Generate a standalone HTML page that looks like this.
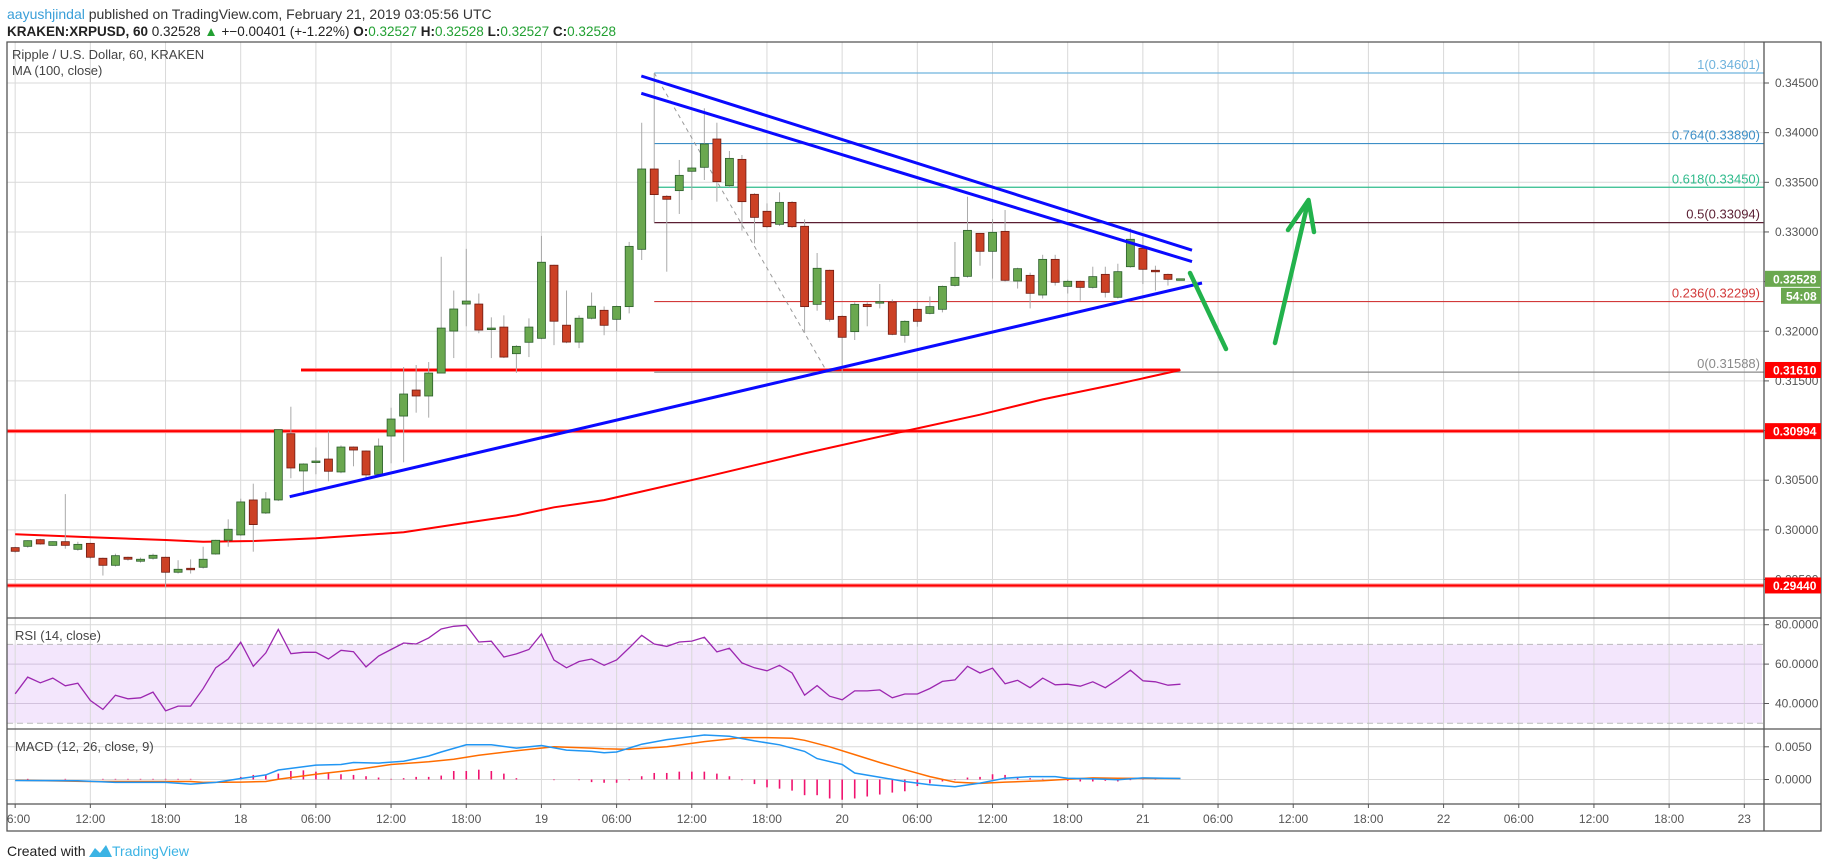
<!DOCTYPE html>
<html><head><meta charset="utf-8"><style>
html,body{margin:0;padding:0;background:#fff;}
svg{display:block;font-family:"Liberation Sans",sans-serif;}
</style></head><body>
<svg id="chart" width="1828" height="868" viewBox="0 0 1828 868" xmlns="http://www.w3.org/2000/svg">
<text x="7" y="19" font-size="14" fill="#3a9fd8">aayushjindal<tspan fill="#333"> published on TradingView.com, February 21, 2019 03:05:56 UTC</tspan></text>
<text x="7" y="36" font-size="13.5" fill="#222"><tspan font-weight="bold">KRAKEN:XRPUSD, 60</tspan> 0.32528 <tspan fill="#22a032">▲</tspan> +−0.00401 (+-1.22%) <tspan font-weight="bold">O:</tspan><tspan fill="#22a032">0.32527</tspan> <tspan font-weight="bold">H:</tspan><tspan fill="#22a032">0.32528</tspan> <tspan font-weight="bold">L:</tspan><tspan fill="#22a032">0.32527</tspan> <tspan font-weight="bold">C:</tspan><tspan fill="#22a032">0.32528</tspan></text>
<defs><clipPath id="plotclip"><rect x="7" y="42" width="1757" height="762"/></clipPath>
<clipPath id="timeclip"><rect x="7" y="804" width="1757" height="27"/></clipPath></defs>
<g id="grid" clip-path="url(#plotclip)"></g>
<g id="main" clip-path="url(#plotclip)"></g>
<g id="rsi" clip-path="url(#plotclip)"></g>
<g id="macd" clip-path="url(#plotclip)"></g>
<g id="timelabels" clip-path="url(#timeclip)"></g>
<g id="axes"></g>
<text x="12" y="59" font-size="13" fill="#444">Ripple / U.S. Dollar, 60, KRAKEN</text>
<text x="12" y="75" font-size="13" fill="#444">MA (100, close)</text>
<text x="15" y="640" font-size="13" fill="#444">RSI (14, close)</text>
<text x="15" y="751" font-size="13" fill="#444">MACD (12, 26, close, 9)</text>
<text x="7" y="856" font-size="14" fill="#222">Created with</text>
<path d="M89 857 l6 -9 l5 5 l6 -8 l6 12 z" fill="#3bb3e4"/>
<text x="112" y="856" font-size="14" fill="#3bb3e4">TradingView</text>
</svg>
<script>
const opens=[.29821,.29834,.29901,.29844,.29881,.29804,.29864,.29714,.29643,.29724,.29684,.29714,.29724,.29573,.29613,.29623,.29757,.29895,.29949,.30301,.30170,.30301,.30968,.30593,.30683,.30713,.30583,.30834,.30794,.30559,.30945,.31146,.31408,.31348,.31579,.32002,.32274,.32274,.32019,.32042,.31774,.31889,.31929,.32665,.32061,.31891,.32131,.32211,.32120,.32248,.32825,.33634,.33359,.33416,.33611,.33651,.33936,.33466,.33731,.33379,.33208,.33077,.33298,.33057,.32271,.32614,.32150,.31996,.32271,.32288,.32295,.31959,.32221,.32180,.32221,.32462,.32553,.32986,.32805,.33006,.32506,.32563,.32365,.32724,.32452,.32503,.32442,.32573,.32342,.32650,.32835,.32614,.32573,.32527];
const highs=[.2983,.29895,.2991,.29885,.3036,.2988,.2987,.2972,.2976,.2973,.2972,.2976,.2973,.29694,.29703,.2983,.2990,.30106,.30314,.30465,.30380,.3101,.3124,.3067,.3083,.3099,.3085,.3084,.3080,.3092,.3123,.3164,.3166,.3169,.3275,.3241,.3283,.3238,.3214,.3216,.3186,.3213,.3296,.3267,.3241,.3216,.3239,.3225,.3226,.3290,.34100,.34601,.3337,.33725,.3388,.34245,.34100,.33815,.33775,.3339,.33288,.33399,.3331,.33127,.32788,.3262,.3216,.3229,.3229,.32476,.32321,.3211,.3229,.3235,.3246,.32899,.33355,.3299,.3313,.33221,.3264,.3259,.3277,.3277,.3252,.3251,.3265,.3265,.3268,.33036,.32953,.3266,.3258,.32528];
const lows=[.2977,.2982,.2985,.2984,.2981,.2979,.2971,.2954,.2963,.2969,.2967,.2970,.2942,.2956,.2956,.2961,.2975,.2983,.2994,.2978,.3016,.3029,.3052,.30361,.3056,.3049,.3057,.3064,.3052,.3055,.3067,.3068,.3118,.3113,.3158,.3173,.3205,.3198,.3173,.3173,.3158,.3174,.3192,.3186,.3188,.3183,.3212,.3196,.3200,.3218,.32718,.33097,.3260,.33181,.33322,.33523,.33305,.3345,.33013,.32885,.3304,.3306,.3304,.31986,.32207,.32097,.31588,.31912,.3205,.3223,.3196,.31885,.32046,.3217,.3219,.3245,.3254,.3266,.3253,.3250,.3243,.3223,.3233,.3246,.3238,.32308,.3243,.3234,.3233,.3264,.32476,.3241,.3246,.32527];
const closes=[.29784,.29891,.29858,.29881,.29844,.29854,.29724,.29643,.29740,.29704,.29704,.29744,.29573,.29603,.29603,.29704,.29895,.30006,.30281,.30053,.30311,.31009,.30623,.30663,.30693,.30590,.30834,.30804,.30553,.30844,.31116,.31368,.31348,.31579,.32032,.32224,.32304,.32012,.32032,.31740,.31848,.32042,.32695,.32101,.31891,.32131,.32252,.32060,.32250,.32855,.33634,.33376,.33329,.33570,.33644,.33886,.33506,.33741,.33305,.33147,.33053,.33298,.33053,.32248,.32634,.32120,.31939,.32271,.32248,.32298,.31969,.32100,.32100,.32248,.32452,.32543,.33016,.32805,.32996,.32513,.32630,.32382,.32724,.32493,.32503,.32442,.32550,.32392,.32600,.32926,.32624,.32600,.32523,.32528];
const maIdx=[0,6,12,15,19,24,31,36,40,43,47,55,63,71,77,82,88,93];
const maVals=[.29955,.29925,.29898,.29881,.29888,.29915,.29975,.30072,.30146,.30227,.30300,.3053,.3077,.30994,.3116,.31314,.3147,.3161];
const rsiVals=[44.9,53.4,50.5,52.9,49.0,50.3,41.5,37.0,44.2,42.4,42.9,45.8,36.3,38.7,38.7,47.5,58.1,62.6,71.1,58.9,65.7,77.6,65.3,66.0,66.0,62.6,67.0,66.3,58.6,64.1,67.4,70.7,70.2,73.3,77.8,79.2,79.7,71.2,71.6,63.6,65.2,67.4,75.3,62.1,58.1,61.3,62.6,59.4,62.1,68.2,74.6,70.2,69.0,71.2,71.7,73.6,66.2,68.0,60.6,58.1,56.6,59.4,55.5,44.2,49.1,43.7,41.9,46.4,46.4,46.9,42.9,44.8,44.8,47.6,51.2,52.0,58.9,55.5,57.9,50.0,51.8,48.0,52.9,49.5,49.8,48.8,51.0,48.0,52.2,56.9,51.5,51.0,49.3,49.8];
const macdIdx=[0,5,8,12,14,16,18,20,21,24,26,27,29,31,33,34,36,38,40,42,44,46,47,48,50,52,55,57,59,61,63,64,66,67,69,71,73,75,77,79,81,83,84,86,88,90,93];
const macdVals=[-.00015,-.0002,-.00045,-.00045,-.0007,-.00045,.00015,.0007,.00146,.0022,.0023,.0026,.0025,.0028,.0036,.0042,.0053,.0053,.0048,.0052,.0045,.0043,.0041,.0042,.0054,.0061,.0068,.0066,.0059,.0053,.0043,.0032,.0023,.001,.00035,-.0003,-.0008,-.0011,-.00055,.0002,.00045,.00045,.0002,.0001,-.00005,.00025,.00015];
const sigIdx=[0,6,14,15,18,20,21,24,27,30,33,35,37,40,43,46,47,49,52,55,58,60,62,63,65,67,69,71,73,75,77,79,82,84,86,88,93];
const sigVals=[-.0001,-.0003,-.0003,-.00045,-.0004,-.0003,.00005,.0008,.00146,.0023,.0027,.0031,.0037,.0044,.005,.0048,.0047,.0046,.005,.0058,.0064,.0064,.0063,.006,.005,.0038,.0026,.0015,.00045,-.0004,-.0006,-.0004,-.0002,.00005,.00025,.0002,.00015];
const histVals=[0,.0001,0,0,.0001,0,0,.0001,.0001,.0001,.0001,.0001,.0001,.0001,.0001,0,0,0,.0004,.0007,.0007,.0009,.0013,.0014,.0012,.0011,.0008,.0007,.0005,.0003,.0001,.0002,.0004,.0004,.0006,.0013,.0013,.0015,.0013,.0009,.0002,0,0,-.0001,0,-.0001,-.0004,-.0005,-.0005,-.0001,.0005,.001,.001,.0012,.0012,.0012,.0009,.0005,-.0001,-.0007,-.0012,-.0014,-.0017,-.0024,-.0024,-.0029,-.0031,-.0029,-.0026,-.0023,-.002,-.0018,-.001,-.0006,-.0003,-.0001,.0003,.0004,.0008,.0007,.0004,.0002,.0001,0,-.0002,-.0003,-.0003,-.0002,-.0003,-.0001,.0001,.0001,0,0];
const priceTicks=[0.345,0.340,0.335,0.330,0.325,0.320,0.315,0.310,0.305,0.300,0.295];
const rsiTicks=[80,60,40];
const macdTicks=[0.005,0];
const timeHours=[-18,-12,-6,0,6,12,18,24,30,36,42,48,54,60,66,72,78,84,90,96,102,108,114,120];
const timeLabels=["06:00","12:00","18:00","18","06:00","12:00","18:00","19","06:00","12:00","18:00","20","06:00","12:00","18:00","21","06:00","12:00","18:00","22","06:00","12:00","18:00","23"];
const fibLevels=[1,0.764,0.618,0.5,0.236,0];
const fibPrices=[0.34601,0.33890,0.33450,0.33094,0.32299,0.31588];
const fibColors=["#6fb3dd","#3d8fc7","#2fbb8c","#5a1e32","#d23a3a","#8a8a8a"];

const NS="http://www.w3.org/2000/svg";
const X0=7,X1=1764;
const xC=i=>15.2+i*12.53;
const xH=h=>240.7+h*12.53;
const yP=p=>83+(0.345-p)*9930;
const yR=v=>624.7+(80-v)*1.97;
const yM=v=>779.5-v*6540;
function mk(tag,parent,attrs){const e=document.createElementNS(NS,tag);for(const k in attrs)e.setAttribute(k,attrs[k]);parent.appendChild(e);return e;}
const G=document.getElementById('grid'),M=document.getElementById('main'),R=document.getElementById('rsi'),D=document.getElementById('macd'),A=document.getElementById('axes'),TL=document.getElementById('timelabels');

let band=mk('rect',G,{x:X0,y:yR(70),width:X1-X0-2,height:yR(30)-yR(70),fill:'#f3e6fc'});


timeHours.forEach((h,k)=>{const x=xH(h);
 let l=mk('line',G,{x1:x,x2:x,y1:42,y2:804,stroke:'#d9d9d9','stroke-width':1});
 
 
 let t=mk('text',TL,{x:x,y:823,'font-size':12,fill:'#555','text-anchor':'middle'});t.textContent=timeLabels[k];
 
 
 mk('line',A,{x1:x,x2:x,y1:804,y2:808,stroke:'#555'});
});
priceTicks.forEach(p=>{const y=yP(p);
 let l=mk('line',G,{x1:X0,x2:X1,y1:y,y2:y,stroke:'#d9d9d9','stroke-width':1});
 
 
 let t=mk('text',A,{x:1775,y:y+4,'font-size':12,fill:'#555'});t.textContent=p.toFixed(5);
 
 
 mk('line',A,{x1:1764,x2:1769,y1:y,y2:y,stroke:'#555'});
});
rsiTicks.forEach(v=>{const y=yR(v);
 let l=mk('line',G,{x1:X0,x2:X1,y1:y,y2:y,stroke:v==80?'#d9d9d9':'#d2c2dd','stroke-width':1});
 
 
 let t=mk('text',A,{x:1775,y:y+4,'font-size':12,fill:'#555'});t.textContent=v.toFixed(4);
 
 
 mk('line',A,{x1:1764,x2:1769,y1:y,y2:y,stroke:'#555'});
});
[70,30].forEach(v=>{let l=mk('line',G,{x1:X0,x2:X1,y1:yR(v),y2:yR(v),stroke:'#bbb','stroke-dasharray':'6,4'});
 
 });
macdTicks.forEach(v=>{const y=yM(v);
 let l=mk('line',G,{x1:X0,x2:X1,y1:y,y2:y,stroke:'#d9d9d9'});
 
 
 let t=mk('text',A,{x:1775,y:y+4,'font-size':12,fill:'#555'});t.textContent=v.toFixed(4);
 
 
 mk('line',A,{x1:1764,x2:1769,y1:y,y2:y,stroke:'#555'});
});

[[0.30994,X0,X1],[0.29440,X0,X1],[0.31610,301,1180]].forEach(s=>{
 mk('line',M,{x1:s[1],x2:s[2],y1:yP(s[0]),y2:yP(s[0]),stroke:'#ff8a8a','stroke-width':4});
 let l=mk('line',M,{x1:s[1],x2:s[2],y1:yP(s[0]),y2:yP(s[0]),stroke:'#ff0000','stroke-width':2});
 
 
});
fibPrices.forEach((p,k)=>{const y=yP(p);
 let l=mk('line',M,{x1:xC(51),x2:X1,y1:y,y2:y,stroke:fibColors[k],'stroke-width':1.2});
 
 
 let t=mk('text',M,{x:1760,y:y-4,'font-size':13,fill:fibColors[k],'text-anchor':'end'});t.textContent=fibLevels[k]+'('+p.toFixed(5)+')';
 
 
});
let fd=mk('line',M,{x1:xC(51),y1:yP(fibPrices[0]),x2:xC(66)-15,y2:yP(fibPrices[5]),stroke:'#999','stroke-dasharray':'4,4'});


let mad=maIdx.map((i,k)=>(k?'L':'M')+xC(i).toFixed(1)+' '+yP(maVals[k]).toFixed(1)).join(' ');
let ma=mk('path',M,{d:mad,fill:'none',stroke:'#ff0000','stroke-width':2});


opens.forEach((o,i)=>{const c=closes[i],x=xC(i),up=c>=o;
 let w=mk('line',M,{x1:x,x2:x,y1:yP(highs[i]),y2:yP(lows[i]),stroke:'#aaa','stroke-width':1});
 
 
 const t=yP(Math.max(o,c)),b=yP(Math.min(o,c));
 let r=mk('rect',M,{x:x-4,y:t,width:8,height:Math.max(1.5,b-t),fill:up?'#6aa84f':'#cc4125',stroke:up?'#2b5e2b':'#6e1b12','stroke-width':0.8});
 
 
});
[[289.7,496.7,1202,283],[641.3,76,1192,250.2],[641.3,93.3,1192,261.6]].forEach(s=>{
 let l=mk('line',M,{x1:s[0],y1:s[1],x2:s[2],y2:s[3],stroke:'#0a0aff','stroke-width':3});
 
 
});
let a1=mk('path',M,{d:'M1190 273 L1226 349',stroke:'#22b24c','stroke-width':4.5,fill:'none','stroke-linecap':'round'});


let a2=mk('path',M,{d:'M1275 343 L1308.5 200 M1288 230 L1308.5 200 L1314 232',stroke:'#22b24c','stroke-width':4.5,fill:'none','stroke-linecap':'round','stroke-linejoin':'round'});


let rd=rsiVals.map((v,i)=>(i?'L':'M')+xC(i).toFixed(1)+' '+yR(v).toFixed(1)).join(' ');
let rl=mk('path',R,{d:rd,fill:'none',stroke:'#9c27b0','stroke-width':1.3});


histVals.forEach((v,i)=>{const x=xC(i);
 let b=mk('rect',D,{x:x-0.8,y:Math.min(yM(v),yM(0)),width:1.6,height:Math.abs(yM(v)-yM(0)),fill:'#f0136f'});
 
 
});
let sd=sigIdx.map((i,k)=>(k?'L':'M')+xC(i).toFixed(1)+' '+yM(sigVals[k]).toFixed(1)).join(' ');
let sl=mk('path',D,{d:sd,fill:'none',stroke:'#ff6d00','stroke-width':1.5});


let md=macdIdx.map((i,k)=>(k?'L':'M')+xC(i).toFixed(1)+' '+yM(macdVals[k]).toFixed(1)).join(' ');
let ml=mk('path',D,{d:md,fill:'none',stroke:'#2196f3','stroke-width':1.5});



[['M7 42 H1821 V831 H7 Z','chart-frame'],['M1764 42 V831','price-axis-border'],['M7 618 H1821','rsi-pane-border'],['M7 729 H1821','macd-pane-border'],['M7 804 H1821','time-axis-border']].forEach(f=>{
 let p=mk('path',A,{d:f[0],fill:'none',stroke:'#555','stroke-width':1.3});
 
 
});
[[0.32528,'#6aa84f','0.32528'],[0.31610,'#ff0000','0.31610'],[0.30994,'#ff0000','0.30994'],[0.29440,'#ff0000','0.29440']].forEach(b=>{const y=yP(b[0]);
 let r=mk('rect',A,{x:1765,y:y-8,width:56,height:16,fill:b[1]});
 
 
 let t=mk('text',A,{x:1773,y:y+4.5,'font-size':12,'font-weight':'bold',fill:'#fff'});t.textContent=b[2];
 
 
});
let cd=mk('rect',A,{x:1781,y:yP(0.32528)+9,width:40,height:16,fill:'#6aa84f'});


let ct=mk('text',A,{x:1786,y:yP(0.32528)+21.5,'font-size':12,'font-weight':'bold',fill:'#fff'});ct.textContent='54:08';


</script>
</body></html>
